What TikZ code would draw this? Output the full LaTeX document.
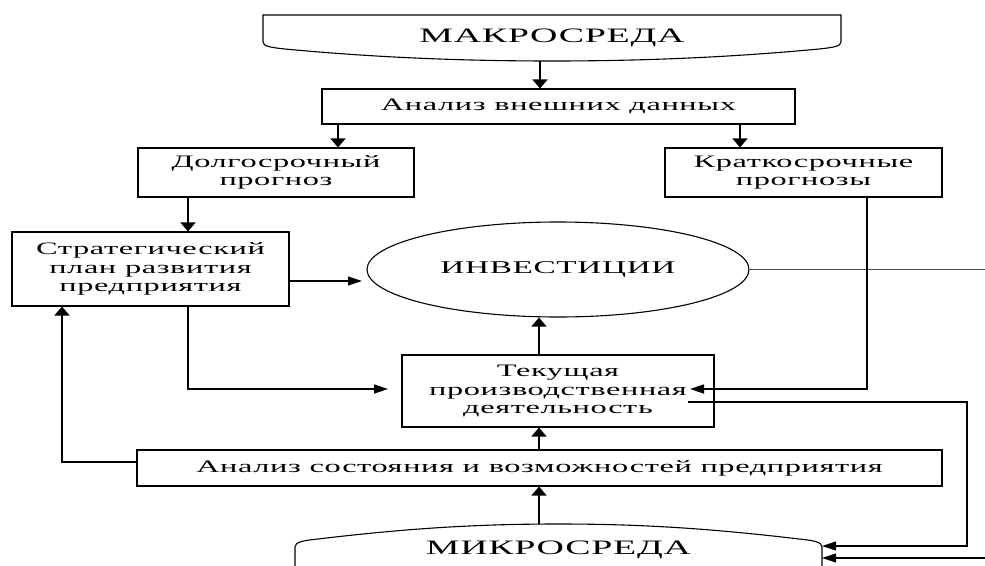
\documentclass[tikz,border=0pt]{standalone}
\usepackage{fontspec}
\setmainfont{Liberation Serif}[FakeStretch=1.85,LetterSpace=3.5]
\usetikzlibrary{arrows.meta,shapes.geometric}
\begin{document}
\begin{tikzpicture}[x=1pt,y=-1pt,
  txt/.style={font=\fontsize{17.5}{18.5}\selectfont, align=center, inner sep=0pt},
  box/.style={txt, draw, line width=1.1pt},
  big/.style={font=\fontsize{20.5}{24}\selectfont, inner sep=0pt},
  thk/.style={line width=1.7pt},
  thn/.style={line width=1.1pt},
  varr/.style={-{Triangle[length=9pt,width=15pt]}},
  harr/.style={-{Triangle[length=14pt,width=9pt]}}]
\useasboundingbox (0,0) rectangle (985,565);
% environment shapes
\draw[thn] (263,42) -- (263,15) -- (841,15) -- (841,42)
  .. controls (841,46) and (834,47.5) .. (819,49)
  .. controls (724,58) and (634,61) .. (552,61)
  .. controls (470,61) and (380,58) .. (285,49)
  .. controls (270,47.5) and (263,46) .. (263,42);
\draw[thn] (295,566) -- (295,547)
  .. controls (295,542) and (303,540.5) .. (318,539)
  .. controls (410,528) and (480,524) .. (558.5,524)
  .. controls (637,524) and (707,528) .. (799,539)
  .. controls (814,540.5) and (822,542) .. (822,547) -- (822,566);
\node[big] (macro) at (552,38) {МАКРОСРЕДА};
\node[big] (micro) at (558.5,550) {МИКРОСРЕДА};
% boxes
\node[box, minimum width=473pt, minimum height=35pt] (ext) at (558.5,106.5) {Анализ внешних данных};
\node[box, minimum width=276pt, minimum height=49pt] (long) at (276,172.5) {Долгосрочный\\прогноз};
\node[box, minimum width=277pt, minimum height=49pt] (short) at (803.5,172.5) {Краткосрочные\\прогнозы};
\node[box, minimum width=277pt, minimum height=74pt] (strat) at (150.5,269) {Стратегический\\план развития\\предприятия};
\node[draw, ellipse, thn, inner sep=0pt, minimum width=382pt, minimum height=95pt, font=\fontsize{18}{21}\selectfont] (inv) at (558,269.5) {ИНВЕСТИЦИИ};
\node[box, minimum width=312pt, minimum height=72pt] (cur) at (558,391) {Текущая\\производственная\\деятельность};
\node[box, minimum width=805pt, minimum height=36pt] (anal) at (539.5,468) {Анализ состояния и возможностей предприятия};
% helper coordinates
\coordinate (mb) at (540,61);
\coordinate (mt) at (539,524);
\coordinate (xl) at (338,0);
\coordinate (xr) at (740,0);
\coordinate (xs) at (188,0);
\coordinate (xm) at (539,0);
\coordinate (xk) at (867,0);
\coordinate (xf) at (62,0);
\coordinate (fy) at (0,462);
\coordinate (yc) at (0,389);
\coordinate (ti) at (362,281);
\coordinate (tc) at (690,389);
\coordinate (tl) at (388,389);
\coordinate (re) at (985,269.5);
\coordinate (c1) at (688,402);
\coordinate (c2) at (967,402);
\coordinate (c3) at (967,546);
\coordinate (m1) at (822,546);
\coordinate (r2) at (985,558);
\coordinate (m2) at (822,558);
% connectors
\draw[thk,varr] (mb) -- (mb |- ext.north);
\draw[thk,varr] (ext.south -| xl) -- (long.north -| xl);
\draw[thk,varr] (ext.south -| xr) -- (short.north -| xr);
\draw[thk,varr] (long.south -| xs) -- (strat.north -| xs);
\draw[thn,harr] (strat.east |- ti) -- (ti);
\draw[line width=1pt,black!70] (inv.east) -- (re);
\draw[thk,harr] (short.south -| xk) -- (xk |- yc) -- (tc);
\draw[thk,harr] (strat.south -| xs) -- (xs |- yc) -- (tl);
\draw[thk,varr] (cur.north -| xm) -- (inv.south -| xm);
\draw[thk,varr] (anal.north -| xm) -- (cur.south -| xm);
\draw[thk,varr] (mt) -- (anal.south -| xm);
\draw[thk,varr] (anal.west |- fy) -- (xf |- fy) -- (strat.south -| xf);
\draw[thn,harr] (c1) -- (c2) -- (c3) -- (m1);
\draw[thn,harr] (r2) -- (m2);
\end{tikzpicture}
\end{document}
